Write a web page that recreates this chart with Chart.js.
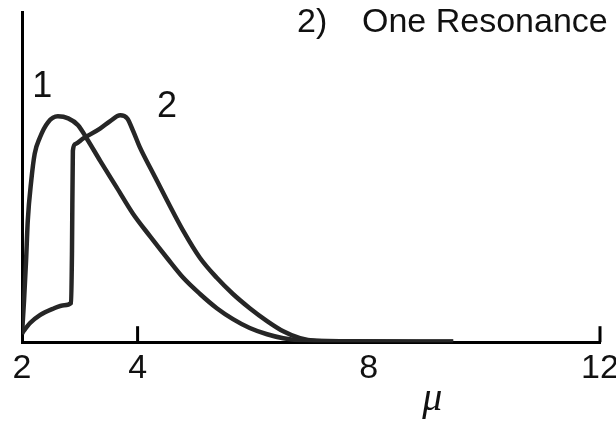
<!DOCTYPE html>
<html>
<head>
<meta charset="utf-8">
<script src="https://cdn.jsdelivr.net/npm/chart.js@4.4.1/dist/chart.umd.min.js"></script>
<style>
  body { margin: 0; background: #fff; }
  #wrap { width: 616px; height: 421px; }
</style>
</head>
<body>
<div id="wrap"><canvas id="resonance" width="616" height="421"></canvas></div>
<script>
'use strict';

// x axis: mu, labelled ticks and the small marks above the axis
var muTicks = [2, 4, 8, 12];
var tickMarks = [4, 12];

// curve 1
var mu1 = [2.00, 2.035, 2.07, 2.10, 2.16, 2.22, 2.31, 2.45, 2.62, 2.80, 2.97, 3.12, 3.35, 3.64,
           3.92, 4.21, 4.51, 4.79, 5.08, 5.37, 5.65, 5.94, 6.24, 6.52, 6.81, 7.67, 9.46];
var val1 = [0.024, 0.125, 0.246, 0.368, 0.489, 0.571, 0.620, 0.666, 0.684, 0.678, 0.657, 0.617, 0.550, 0.468,
            0.389, 0.322, 0.255, 0.195, 0.146, 0.103, 0.070, 0.043, 0.024, 0.012, 0.006, 0.003, 0.002];

// curve 2 (jumps up at the threshold)
var mu2 = [2.00, 2.14, 2.31, 2.52, 2.73, 2.85, 2.865, 2.88, 2.92, 3.06, 3.35, 3.52, 3.70, 3.82,
           3.92, 4.04, 4.27, 4.51, 4.79, 5.08, 5.37, 5.65, 5.94, 6.24, 6.52, 6.81, 7.10, 7.67, 9.46];
var val2 = [0.027, 0.058, 0.082, 0.100, 0.112, 0.119, 0.277, 0.580, 0.600, 0.617, 0.647, 0.669, 0.687, 0.678,
            0.641, 0.590, 0.511, 0.429, 0.337, 0.255, 0.195, 0.146, 0.103, 0.064, 0.033, 0.012, 0.004, 0.002, 0.001];

// curve labels, placed in data units
var curveLabels = [
  { text: '1', mu: 2.35, v: 0.772 },
  { text: '2', mu: 4.51, v: 0.711 }
];

var inkColor = '#262626';
var textFont = '"Liberation Sans", Arial, sans-serif';

function points(xs, ys) {
  return xs.map(function (x, i) { return { x: x, y: ys[i] }; });
}

// extra drawing: ticks inside the axis, curve numbers, title and the mu label
var annotations = {
  id: 'annotations',
  afterDraw: function (chart) {
    var ctx = chart.ctx;
    var xs = chart.scales.x;
    var ys = chart.scales.y;
    var area = chart.chartArea;

    ctx.save();
    ctx.strokeStyle = '#000';
    ctx.lineWidth = 3;
    tickMarks.forEach(function (t) {
      var px = xs.getPixelForValue(t);
      ctx.beginPath();
      ctx.moveTo(px, area.bottom);
      ctx.lineTo(px, area.bottom - 16);
      ctx.stroke();
    });

    ctx.fillStyle = '#111';
    ctx.textAlign = 'center';
    ctx.textBaseline = 'middle';
    ctx.font = '36px ' + textFont;
    curveLabels.forEach(function (l) {
      ctx.fillText(l.text, xs.getPixelForValue(l.mu), ys.getPixelForValue(l.v));
    });

    ctx.textAlign = 'left';
    ctx.textBaseline = 'alphabetic';
    ctx.font = '34px ' + textFont;
    ctx.fillText('2)', 297, 32);
    ctx.fillText('One Resonance', 362, 32);

    ctx.textAlign = 'center';
    ctx.font = 'italic 40px "Liberation Serif", serif';
    ctx.fillText('\u03bc', xs.getPixelForValue(9.1), 410);
    ctx.restore();
  }
};

var ctx = document.getElementById('resonance').getContext('2d');

var chart = new Chart(ctx, {
  type: 'line',
  data: {
    datasets: [{
      label: '1',
      data: points(mu1, val1),
      borderColor: inkColor,
      borderWidth: 4.5,
      pointRadius: 0,
      cubicInterpolationMode: 'monotone',
      fill: false
    },
    {
      label: '2',
      data: points(mu2, val2),
      borderColor: inkColor,
      borderWidth: 4.5,
      pointRadius: 0,
      cubicInterpolationMode: 'monotone',
      fill: false
    }]
  },
  options: {
    responsive: false,
    animation: false,
    layout: { padding: { left: 22, right: 16, top: 12, bottom: 26 } },
    plugins: {
      legend: { display: false },
      tooltip: { enabled: false }
    },
    scales: {
      x: {
        type: 'linear',
        min: 2,
        max: 12,
        afterBuildTicks: function (scale) {
          scale.ticks = muTicks.map(function (v) { return { value: v }; });
        },
        // the end labels may run into the margins
        afterFit: function (scale) {
          scale.paddingLeft = 0;
          scale.paddingRight = 0;
        },
        ticks: {
          color: '#111',
          padding: 6,
          maxRotation: 0,
          autoSkip: false,
          font: { family: textFont, size: 34 },
          callback: function (v) { return String(v); }
        },
        grid: { display: false, drawTicks: false },
        border: { display: true, color: '#000', width: 3 }
      },
      y: {
        min: 0,
        max: 1,
        ticks: { display: false },
        grid: { display: false, drawTicks: false },
        border: { display: true, color: '#000', width: 3 }
      }
    }
  },
  plugins: [annotations]
});
</script>
</body>
</html>
